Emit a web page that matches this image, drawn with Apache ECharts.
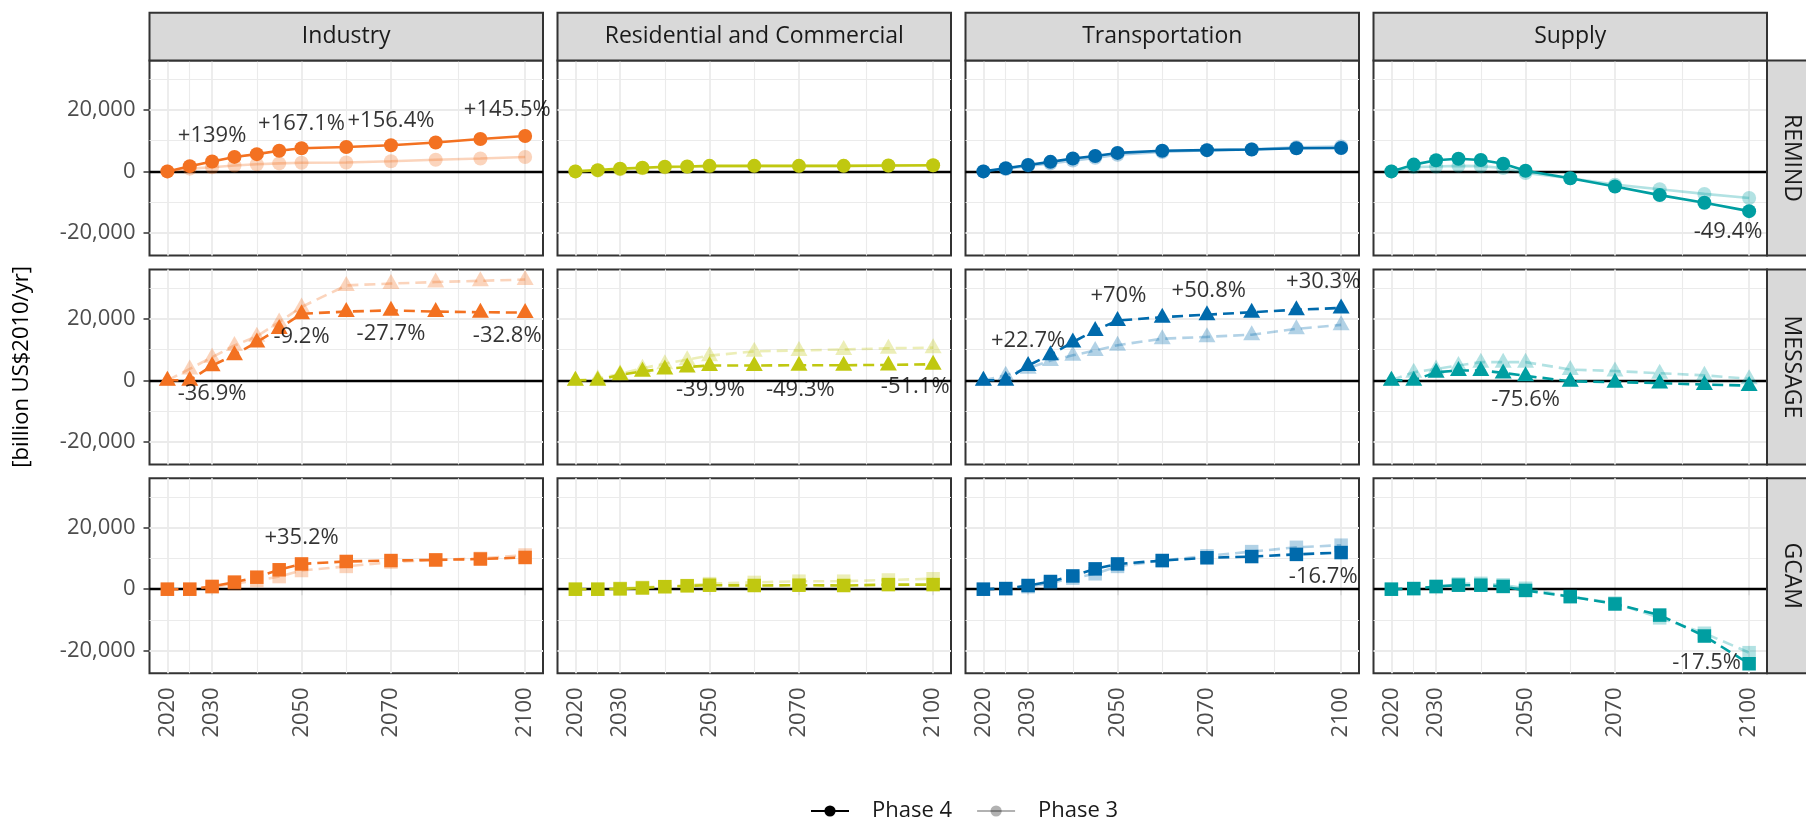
<!DOCTYPE html>
<html>
<head>
<meta charset="utf-8">
<script src="https://cdn.jsdelivr.net/npm/echarts@6/dist/echarts.min.js"></script>
<style>
  html, body { margin: 0; padding: 0; background: #ffffff; }
  #chart { width: 1806px; height: 820px; }
</style>
</head>
<body>
<div id="chart"></div>
<script>
// ---- data (billion US$2010/yr) ----
const years = [2020, 2025, 2030, 2035, 2040, 2045, 2050, 2060, 2070, 2080, 2090, 2100];
const sectors = ['Industry', 'Residential and Commercial', 'Transportation', 'Supply'];
const models = ['REMIND', 'MESSAGE', 'GCAM'];
const xTicks = [2020, 2030, 2050, 2070, 2100];
const yTicks = [-20000, 0, 20000];

const remindIndustryP4 = [0, 1700, 3200, 4700, 5600, 6700, 7500, 7900, 8500, 9400, 10500, 11500];
const remindIndustryP3 = [0, 900, 1340, 1900, 2300, 2600, 2810, 2900, 3315, 3800, 4200, 4685];
const remindResidentialP4 = [0, 400, 900, 1200, 1500, 1600, 1800, 1800, 1800, 1800, 1900, 2000];
const remindResidentialP3 = [0, 300, 700, 1000, 1300, 1500, 1600, 1700, 1700, 1800, 1800, 1900];
const remindTransportP4 = [0, 1000, 2100, 3100, 4200, 5000, 6000, 6700, 6900, 7100, 7500, 7600];
const remindTransportP3 = [0, 800, 1800, 2600, 3500, 4400, 5400, 6300, 6900, 7200, 7800, 8100];
const remindSupplyP4 = [0, 2200, 3600, 4100, 3700, 2500, 200, -2200, -4900, -7700, -10200, -12900];
const remindSupplyP3 = [0, 1400, 1600, 1800, 1700, 1100, -500, -2200, -4300, -5800, -7300, -8630];

const messageIndustryP4 = [0, 0, 4730, 8300, 12400, 16800, 21600, 22300, 22700, 22300, 22100, 21970];
const messageIndustryP3 = [0, 3700, 7500, 11300, 14300, 18900, 23800, 30800, 31400, 31900, 32300, 32700];
const messageResidentialP4 = [0, 0, 1800, 2900, 3700, 4300, 4800, 4800, 4900, 4900, 5000, 5200];
const messageResidentialP3 = [0, 500, 2100, 3900, 5400, 6700, 8000, 9400, 9700, 10000, 10400, 10600];
const messageTransportP4 = [0, 0, 4800, 8300, 12400, 16200, 19400, 20500, 21300, 22100, 22900, 23500];
const messageTransportP3 = [0, 1600, 3910, 6400, 8100, 9700, 11400, 13500, 14100, 14800, 16700, 18000];
const messageSupplyP4 = [0, 0, 2600, 3200, 3200, 2400, 1440, -300, -600, -900, -1400, -1700];
const messageSupplyP3 = [0, 2600, 3700, 4800, 5900, 5900, 5900, 3500, 3000, 2300, 1600, 500];

const gcamIndustryP4 = [0, 0, 900, 2300, 3900, 6300, 8200, 9000, 9300, 9500, 9800, 10300];
const gcamIndustryP3 = [0, 0, 700, 1800, 2800, 4100, 6070, 7400, 8800, 9500, 10000, 11100];
const gcamResidentialP4 = [0, 0, 100, 400, 800, 1100, 1300, 1200, 1300, 1200, 1500, 1500];
const gcamResidentialP3 = [0, 0, 300, 600, 900, 1200, 1800, 2200, 2600, 2600, 3000, 3400];
const gcamTransportP4 = [0, 200, 1200, 2500, 4300, 6600, 8200, 9300, 10200, 10600, 11300, 11900];
const gcamTransportP3 = [0, 200, 800, 2000, 3600, 5000, 7400, 9300, 10800, 12200, 13600, 14290];
const gcamSupplyP4 = [0, 200, 900, 1300, 1300, 900, -400, -2400, -4800, -8400, -15200, -24200];
const gcamSupplyP3 = [0, 200, 700, 1700, 1900, 1400, 300, -2400, -4500, -9300, -14300, -20600];

// percentage change of Phase 4 against Phase 3: [model, sector, year, value, text]
const notes = [
  ['REMIND', 'Industry', 2030, 11700, '+139%'],
  ['REMIND', 'Industry', 2050, 15400, '+167.1%'],
  ['REMIND', 'Industry', 2070, 16600, '+156.4%'],
  ['REMIND', 'Industry', 2096, 19900, '+145.5%'],
  ['REMIND', 'Supply', 2095.3, -19600, '-49.4%'],
  ['MESSAGE', 'Industry', 2030, -4300, '-36.9%'],
  ['MESSAGE', 'Industry', 2050, 14200, '-9.2%'],
  ['MESSAGE', 'Industry', 2070, 15200, '-27.7%'],
  ['MESSAGE', 'Industry', 2096, 14600, '-32.8%'],
  ['MESSAGE', 'Residential and Commercial', 2050.2, -3200, '-39.9%'],
  ['MESSAGE', 'Residential and Commercial', 2070.3, -3200, '-49.3%'],
  ['MESSAGE', 'Residential and Commercial', 2096, -2200, '-51.1%'],
  ['MESSAGE', 'Transportation', 2030, 13000, '+22.7%'],
  ['MESSAGE', 'Transportation', 2050.2, 27300, '+70%'],
  ['MESSAGE', 'Transportation', 2070.4, 29200, '+50.8%'],
  ['MESSAGE', 'Transportation', 2096, 31900, '+30.3%'],
  ['MESSAGE', 'Supply', 2050, -6300, '-75.6%'],
  ['GCAM', 'Industry', 2050, 16600, '+35.2%'],
  ['GCAM', 'Transportation', 2096, 4100, '-16.7%'],
  ['GCAM', 'Supply', 2090.5, -23800, '-17.5%']
];

// lookup table: model -> sector -> [Phase 4, Phase 3]
const panels = {
  REMIND: {
    'Industry': [remindIndustryP4, remindIndustryP3],
    'Residential and Commercial': [remindResidentialP4, remindResidentialP3],
    'Transportation': [remindTransportP4, remindTransportP3],
    'Supply': [remindSupplyP4, remindSupplyP3]
  },
  MESSAGE: {
    'Industry': [messageIndustryP4, messageIndustryP3],
    'Residential and Commercial': [messageResidentialP4, messageResidentialP3],
    'Transportation': [messageTransportP4, messageTransportP3],
    'Supply': [messageSupplyP4, messageSupplyP3]
  },
  GCAM: {
    'Industry': [gcamIndustryP4, gcamIndustryP3],
    'Residential and Commercial': [gcamResidentialP4, gcamResidentialP3],
    'Transportation': [gcamTransportP4, gcamTransportP3],
    'Supply': [gcamSupplyP4, gcamSupplyP3]
  }
};

// ---- styling ----
const FONT = 'Open Sans';
const sectorRGB = {
  'Industry': [243, 113, 33],
  'Residential and Commercial': [192, 200, 16],
  'Transportation': [0, 106, 172],
  'Supply': [0, 158, 161]
};
const LINE_W = 2.6;
const modelSymbol = {
  REMIND: { symbol: 'circle', size: 14, offset: [0, 0], dash: 'solid' },
  MESSAGE: { symbol: 'triangle', size: [17, 15], offset: [0, -2], dash: [11, 6] },
  GCAM: { symbol: 'rect', size: 13.5, offset: [0, 0], dash: [11, 6] }
};
const W = 393.5, H = 195;
const colLeft = [149.5, 557.5, 965.5, 1373.5];
const rowTop = [60.5, 269.4, 478.3];
const Y_MIN = -27300, Y_MAX = 36000;

const rgba = (c, a) => `rgba(${c[0]},${c[1]},${c[2]},${a})`;
const pairs = vals => years.map((y, i) => [y, vals[i]]);

function gridLines() {
  const minorV = [2025, 2040, 2060, 2085];
  const minorH = [-10000, 10000, 30000];
  const majorH = [-20000, 20000];
  const minor = { color: '#ebebeb', width: 1.1, type: 'solid' };
  const major = { color: '#ebebeb', width: 1.8, type: 'solid' };
  const data = [];
  minorV.forEach(v => data.push({ xAxis: v, lineStyle: minor }));
  minorH.forEach(v => data.push({ yAxis: v, lineStyle: minor }));
  xTicks.forEach(v => data.push({ xAxis: v, lineStyle: major }));
  majorH.forEach(v => data.push({ yAxis: v, lineStyle: major }));
  data.push({ yAxis: 0, lineStyle: { color: '#000000', width: 2.4, type: 'solid' } });
  return {
    silent: true, symbol: ['none', 'none'], z: 1, animation: false,
    label: { show: false }, emphasis: { disabled: true }, data
  };
}

const grids = [], xAxes = [], yAxes = [], series = [], graphics = [];

// legend keys
series.push({
  type: 'line', name: 'Phase 4', data: [], xAxisIndex: 0, yAxisIndex: 0,
  symbol: 'circle', symbolSize: 13, itemStyle: { color: '#000000' },
  lineStyle: { color: '#000000', width: LINE_W }
});
series.push({
  type: 'line', name: 'Phase 3', data: [], xAxisIndex: 0, yAxisIndex: 0,
  symbol: 'circle', symbolSize: 13, itemStyle: { color: 'rgba(0,0,0,0.3)' },
  lineStyle: { color: 'rgba(0,0,0,0.3)', width: LINE_W }
});

models.forEach((model, r) => {
  sectors.forEach((sector, c) => {
    const idx = r * 4 + c;
    grids.push({
      left: colLeft[c], top: rowTop[r], width: W, height: H,
      show: true, borderColor: '#333333', borderWidth: 2, backgroundColor: '#ffffff'
    });
    xAxes.push({
      gridIndex: idx, type: 'value', min: 2016, max: 2104,
      axisLine: { show: false }, splitLine: { show: false },
      axisTick: { show: r === 2, customValues: xTicks, length: 6, lineStyle: { color: '#333333', width: 1.5 } },
      axisLabel: {
        show: r === 2, customValues: xTicks, rotate: 90, margin: 14,
        fontSize: 22, color: '#4d4d4d', fontFamily: FONT,
        formatter: v => String(Math.round(v))
      }
    });
    yAxes.push({
      gridIndex: idx, type: 'value', min: Y_MIN, max: Y_MAX,
      axisLine: { show: false }, splitLine: { show: false },
      axisTick: { show: c === 0, customValues: yTicks, length: 6, lineStyle: { color: '#333333', width: 1.5 } },
      axisLabel: {
        show: c === 0, customValues: yTicks, margin: 14,
        fontSize: 22, color: '#4d4d4d', fontFamily: FONT,
        formatter: v => v.toLocaleString('en-US')
      }
    });

    const rgb = sectorRGB[sector];
    const sym = modelSymbol[model];
    const [p4, p3] = panels[model][sector];
    const base = {
      type: 'line', xAxisIndex: idx, yAxisIndex: idx,
      symbol: sym.symbol, symbolSize: sym.size, symbolOffset: sym.offset,
      showSymbol: true, emphasis: { disabled: true }, silent: true, animation: false
    };
    series.push(Object.assign({}, base, {
      name: 'Phase 3', data: pairs(p3), z: 2,
      itemStyle: { color: rgba(rgb, 0.3) },
      lineStyle: { color: rgba(rgb, 0.3), width: LINE_W, type: sym.dash },
      markLine: gridLines()
    }));
    series.push(Object.assign({}, base, {
      name: 'Phase 4', data: pairs(p4), z: 3,
      itemStyle: { color: rgba(rgb, 1) },
      lineStyle: { color: rgba(rgb, 1), width: LINE_W, type: sym.dash }
    }));

    const panelNotes = notes.filter(n => n[0] === model && n[1] === sector);
    if (panelNotes.length) {
      series.push({
        type: 'scatter', xAxisIndex: idx, yAxisIndex: idx, z: 5, silent: true,
        symbol: 'circle', symbolSize: 0.1, itemStyle: { color: 'rgba(0,0,0,0)' },
        data: panelNotes.map(n => ({ value: [n[2], n[3]], text: n[4] })),
        label: {
          show: true, position: 'inside', fontSize: 22, color: '#000000', fontFamily: FONT,
          formatter: p => p.data.text
        },
        emphasis: { disabled: true }, animation: false
      });
    }
  });
});

// facet strips (top: sectors, right: models)
sectors.forEach((sector, c) => {
  graphics.push({
    type: 'rect', shape: { x: colLeft[c], y: 12.7, width: W, height: rowTop[0] - 12.7 },
    style: { fill: '#d9d9d9', stroke: '#333333', lineWidth: 2 }, z: 10
  });
  graphics.push({
    type: 'text', x: colLeft[c] + W / 2, y: (12.7 + rowTop[0]) / 2, z: 11,
    style: { text: sector, fontSize: 23, fontFamily: FONT, fill: '#1a1a1a', align: 'center', verticalAlign: 'middle' }
  });
});
models.forEach((model, r) => {
  const x0 = colLeft[3] + W;
  graphics.push({
    type: 'rect', shape: { x: x0, y: rowTop[r], width: 50, height: H },
    style: { fill: '#d9d9d9', stroke: '#333333', lineWidth: 2 }, z: 10
  });
  graphics.push({
    type: 'text', x: x0 + 24.5, y: rowTop[r] + H / 2, rotation: -Math.PI / 2, z: 11,
    style: { text: model, fontSize: 23, fontFamily: FONT, fill: '#1a1a1a', align: 'center', verticalAlign: 'middle' }
  });
});
// y axis title
graphics.push({
  type: 'text', x: 22, y: (rowTop[0] + rowTop[2] + H) / 2, rotation: Math.PI / 2, z: 11,
  style: { text: '[billion US$2010/yr]', fontSize: 22, fontFamily: FONT, fill: '#000000', align: 'center', verticalAlign: 'middle' }
});

const chart = echarts.init(document.getElementById('chart'), null, { renderer: 'canvas' });
chart.setOption({
  backgroundColor: '#ffffff',
  animation: false,
  textStyle: { fontFamily: FONT },
  grid: grids,
  xAxis: xAxes,
  yAxis: yAxes,
  legend: {
    data: ['Phase 4', 'Phase 3'],
    left: 805, top: 795,
    itemWidth: 38, itemHeight: 14, itemGap: 24,
    textStyle: { fontSize: 22, color: '#1a1a1a', fontFamily: FONT, padding: [0, 0, 0, 18] },
    selectedMode: false
  },
  graphic: graphics,
  series: series
});
</script>
</body>
</html>
